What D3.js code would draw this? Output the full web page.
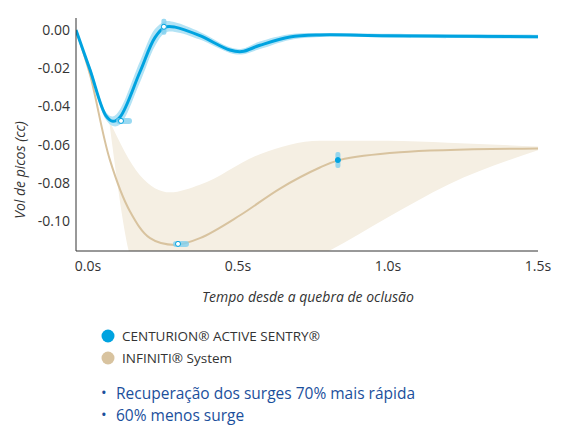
<!DOCTYPE html>
<html><head><meta charset="utf-8">
<script src="https://cdn.jsdelivr.net/npm/d3@7"></script>
<style>body{margin:0;background:#fff;font-family:"Open Sans",sans-serif;}</style>
</head><body>
<script>
var w = 565, h = 436;
var yTicks = [0, -0.02, -0.04, -0.06, -0.08, -0.10];
var xTicks = [0, 0.5, 1.0, 1.5];
var xTickLabels = ["0.0s", "0.5s", "1.0s", "1.5s"];

// blue series (time s, volume cc)
var blueT = [-0.04, 0.007, 0.06, 0.083, 0.107, 0.173, 0.223, 0.257, 0.29, 0.373, 0.473, 0.513, 0.573, 0.673, 0.773, 1.0, 1.5];
var blueV = [0, -0.021, -0.045, -0.0478, -0.0455, -0.022, -0.004, 0.0015, 0.0015, -0.003, -0.0105, -0.0113, -0.008, -0.0037, -0.0026, -0.003, -0.0035];
var blueBand = [0, 0.002, 0.002, 0.0025, 0.004, 0.0055, 0.0045, 0.003, 0.0025, 0.002, 0.0015, 0.0015, 0.002, 0.0015, 0.001, 0.001, 0.001];

var tanT = [-0.04, 0.007, 0.073, 0.14, 0.207, 0.29, 0.373, 0.507, 0.64, 0.773, 0.84, 1.04, 1.5];
var tanV = [0, -0.0236, -0.068, -0.095, -0.109, -0.1125, -0.109, -0.097, -0.083, -0.072, -0.068, -0.064, -0.062];
var tanBandT = [0.07, 0.173, 0.273, 0.373, 0.573, 0.773, 1.0, 1.2, 1.5];
var tanUpper = [-0.047, -0.076, -0.085, -0.081, -0.065, -0.058, -0.058, -0.059, -0.061];
var tanLower = [-0.047, -0.13, -0.13, -0.13, -0.13, -0.118, -0.098, -0.081, -0.063];

var markers = [
  {t: 0.11, v: -0.0476, fill: "#fff", dir: "h"},
  {t: 0.253, v: 0.0017, fill: "#fff", dir: "v"},
  {t: 0.833, v: -0.0681, fill: "#00a3e0", dir: "v"},
  {t: 0.3, v: -0.1120, fill: "#fff", dir: "h"}
];

var svg = d3.select("body").append("svg").attr("width", w).attr("height", h);
var x = d3.scaleLinear().domain([-0.04, 1.5]).range([76, 538]);
var y = d3.scaleLinear().domain([0, -0.10]).range([30, 221]);
var yBottom = 251;

svg.append("clipPath").attr("id", "clip").append("rect")
  .attr("x", 76).attr("y", 0).attr("width", 470).attr("height", yBottom);
var g = svg.append("g").attr("clip-path", "url(#clip)");

var curve = d3.curveCatmullRom.alpha(0.5);
g.append("path")
  .attr("d", d3.area().x(function(d){return x(d[0]);}).y0(function(d){return y(d[2]);}).y1(function(d){return y(d[1]);}).curve(d3.curveMonotoneX)
    (tanBandT.map(function(t, i){return [t, tanUpper[i], tanLower[i]];})))
  .attr("fill", "#f5efe3");
g.append("path")
  .attr("d", d3.area().x(function(d){return x(d[0]);}).y0(function(d){return y(d[1] - d[2]);}).y1(function(d){return y(d[1] + d[2]);}).curve(curve)
    (blueT.map(function(t, i){return [t, blueV[i], blueBand[i]];})))
  .attr("fill", "#b3e3f5");
var line = d3.line().x(function(d){return x(d[0]);}).y(function(d){return y(d[1]);}).curve(curve);
g.append("path").attr("d", line(tanT.map(function(t, i){return [t, tanV[i]];})))
  .attr("fill", "none").attr("stroke", "#d8c39f").attr("stroke-width", 2);
g.append("path").attr("d", line(blueT.map(function(t, i){return [t, blueV[i]];})))
  .attr("fill", "none").attr("stroke", "#00a3e0").attr("stroke-width", 3);

markers.forEach(function(m){
  var cx = x(m.t), cy = y(m.v);
  if (m.dir == "h") {
    g.append("rect").attr("x", cx - 5).attr("y", cy - 3).attr("width", 16).attr("height", 6).attr("rx", 3).attr("fill", "#7fd0ef").attr("opacity", 0.8);
  } else {
    g.append("rect").attr("x", cx - 2.5).attr("y", cy - 8).attr("width", 5).attr("height", 16).attr("rx", 2).attr("fill", "#7fd0ef").attr("opacity", 0.8);
  }
  g.append("circle").attr("cx", cx).attr("cy", cy).attr("r", 2.5).attr("fill", m.fill).attr("stroke", "#00a3e0").attr("stroke-width", 1);
});

// axes
svg.append("line").attr("x1", 76).attr("x2", 76).attr("y1", 18).attr("y2", yBottom).attr("stroke", "#333");
svg.append("line").attr("x1", 76).attr("x2", 538).attr("y1", yBottom).attr("y2", yBottom).attr("stroke", "#333");
svg.selectAll(".yt").data(yTicks).enter().append("text")
  .attr("x", 70).attr("y", function(d){return y(d) + 5;}).attr("text-anchor", "end")
  .attr("font-size", 14).attr("fill", "#333")
  .text(function(d){return d3.format(".2f")(d).replace("−", "-");});
svg.selectAll(".xt").data(xTicks).enter().append("text")
  .attr("x", function(d){return x(d);}).attr("y", 271).attr("text-anchor", "middle")
  .attr("font-size", 14).attr("fill", "#333")
  .text(function(d, i){return xTickLabels[i];});
svg.append("text").attr("transform", "translate(25,170) rotate(-90)").attr("text-anchor", "middle")
  .attr("font-size", 14).attr("font-style", "italic").attr("fill", "#333").text("Vol de picos (cc)");
svg.append("text").attr("x", 308).attr("y", 302).attr("text-anchor", "middle")
  .attr("font-size", 14).attr("font-style", "italic").attr("fill", "#333").text("Tempo desde a quebra de oclusão");

// legend
var legend = [["CENTURION® ACTIVE SENTRY®", "#00a3e0"], ["INFINITI® System", "#d8c39f"]];
legend.forEach(function(l, i){
  svg.append("circle").attr("cx", 108).attr("cy", 336 + i * 22).attr("r", 6.5).attr("fill", l[1]);
  svg.append("text").attr("x", 122).attr("y", 341 + i * 22).attr("font-size", 13.5).attr("fill", "#333").text(l[0]);
});
var bullets = ["Recuperação dos surges 70% mais rápida", "60% menos surge"];
bullets.forEach(function(b, i){
  svg.append("text").attr("x", 101).attr("y", 398 + i * 22).attr("font-size", 15).attr("fill", "#1b4f9c").text("•");
  svg.append("text").attr("x", 116).attr("y", 399 + i * 22).attr("font-size", 15.5).attr("fill", "#1b4f9c").text(b);
});
</script>
</body></html>
